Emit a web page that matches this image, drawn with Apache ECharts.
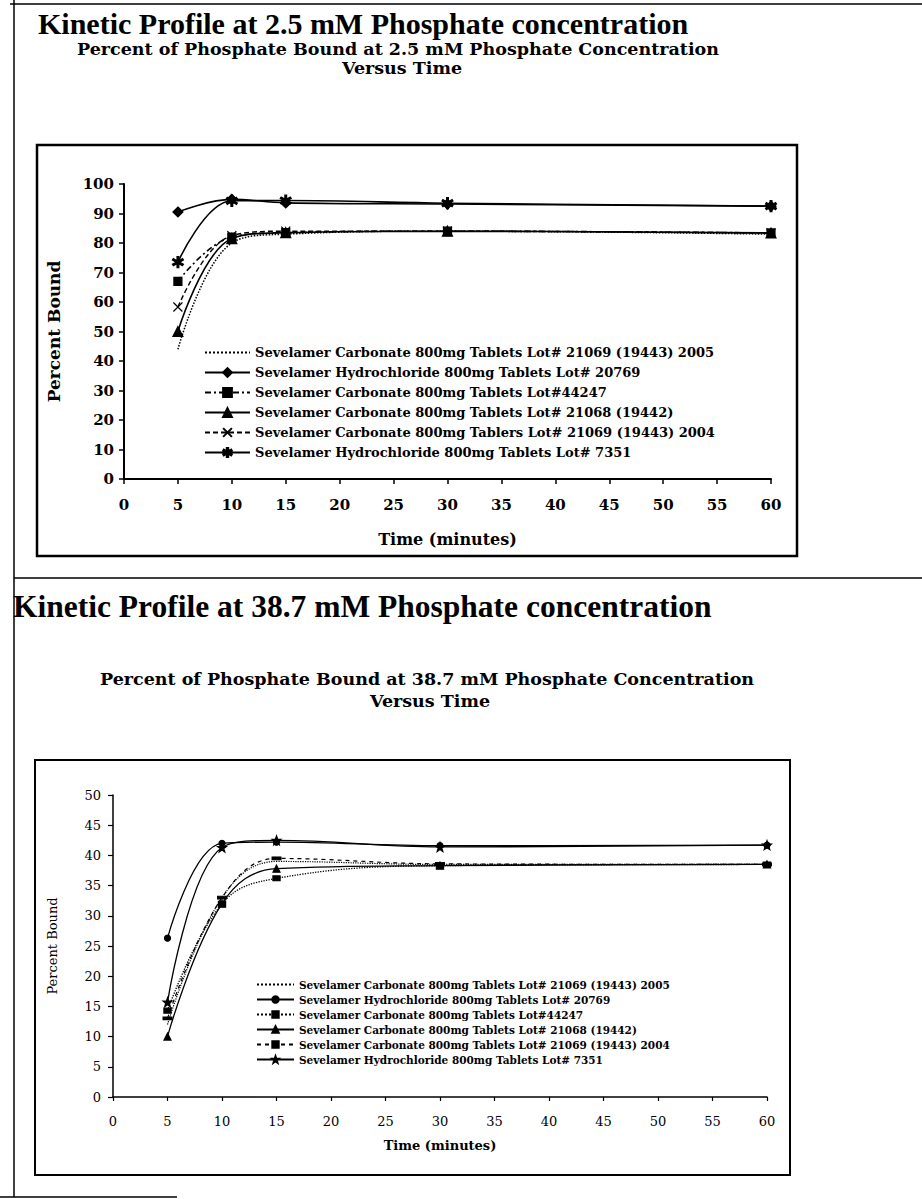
<!DOCTYPE html>
<html>
<head>
<meta charset="utf-8">
<title>Kinetic Profile</title>
<script src="https://cdn.jsdelivr.net/npm/echarts@6/dist/echarts.min.js"></script>
<style>
  body { margin: 0; background: #fff; }
  #top { position: absolute; left: 0; top: 0; width: 922px; height: 580px; }
  #bottom { position: absolute; left: 0; top: 580px; width: 922px; height: 619px; }
</style>
</head>
<body>
<div id="top"></div>
<div id="bottom"></div>
<script type="text/javascript">
// sampling times (minutes)
var times = [5, 10, 15, 30, 60];
var xTicks = { min: 0, max: 60, interval: 5 };

// legend names, as printed on each chart
var names1 = [
    'Sevelamer Carbonate 800mg Tablets Lot# 21069 (19443) 2005',
    'Sevelamer Hydrochloride 800mg Tablets Lot# 20769',
    'Sevelamer Carbonate 800mg Tablets Lot#44247',
    'Sevelamer Carbonate 800mg Tablets Lot# 21068 (19442)',
    'Sevelamer Carbonate 800mg Tablers Lot# 21069 (19443) 2004',
    'Sevelamer Hydrochloride 800mg Tablets Lot# 7351'
];
var names2 = [
    'Sevelamer Carbonate 800mg Tablets Lot# 21069 (19443) 2005',
    'Sevelamer Hydrochloride 800mg Tablets Lot# 20769',
    'Sevelamer Carbonate 800mg Tablets Lot#44247',
    'Sevelamer Carbonate 800mg Tablets Lot# 21068 (19442)',
    'Sevelamer Carbonate 800mg Tablets Lot# 21069 (19443) 2004',
    'Sevelamer Hydrochloride 800mg Tablets Lot# 7351'
];

// percent bound at 2.5 mM
var p25_lot21069_2005 = [44, 80, 83, 84, 83];
var p25_lot20769 = [90.5, 94.8, 93.6, 93.2, 92.5];
var p25_lot44247 = [67, 82, 83.5, 84, 83.4];
var p25_lot21068 = [50, 81.5, 83.5, 84, 83.4];
var p25_lot21069_2004 = [58.3, 82.5, 84, 84, 83.4];
var p25_lot7351 = [73.5, 94.3, 94.4, 93.5, 92.5];

// percent bound at 38.7 mM
var p387_lot21069_2005 = [12, 33, 39, 38.5, 38.5];
var p387_lot20769 = [26.3, 42, 42.2, 41.6, 41.7];
var p387_lot44247 = [14.3, 32, 36.2, 38.3, 38.5];
var p387_lot21068 = [10, 32, 37.8, 38.3, 38.5];
var p387_lot21069_2004 = [13, 33, 39.5, 38.6, 38.5];
var p387_lot7351 = [15.7, 41.3, 42.5, 41.4, 41.7];

var xMark = 'path://M0,0L10,10M10,0L0,10';
// filled asterisk so it still reads at legend size
var asterisk = 'path://M4.3,0L5.7,0L5.7,3.3L8.6,1.6L9.3,2.8L6.4,4.5L9.3,6.2L8.6,7.4L5.7,5.7L5.7,9L4.3,9L4.3,5.7L1.4,7.4L0.7,6.2L3.6,4.5L0.7,2.8L1.4,1.6L4.3,3.3Z';
var star = 'path://M5,0L6.2,3.6L10,3.8L7,6.2L8.1,10L5,7.8L1.9,10L3,6.2L0,3.8L3.8,3.6Z';
var dash = 'path://M0,0L10,0L10,3L0,3Z';

function pairs(vals) {
    return times.map(function (t, i) { return [t, vals[i]]; });
}

function line(name, vals, lineType, symbol, size, width) {
    return {
        name: name,
        type: 'line',
        smooth: 0.4,
        data: pairs(vals),
        symbol: symbol,
        symbolSize: size,
        lineStyle: { color: '#000', width: width, type: lineType },
        itemStyle: { color: '#000', borderColor: '#000', borderWidth: 1.2 },
        emphasis: { disabled: true }
    };
}

// the dotted series has no marker, hide it in the legend icon too
function legendData(names) {
    return names.map(function (n, i) {
        return i === 0 ? { name: n, itemStyle: { opacity: 0 } } : n;
    });
}

function txt(x, y, text, font) {
    return {
        type: 'text', x: x, y: y,
        style: {
            text: text, font: font, fill: '#000',
            align: 'center', textAlign: 'center',
            verticalAlign: 'middle', textVerticalAlign: 'middle'
        }
    };
}

// ---------- 2.5 mM chart ----------
var chart1 = echarts.init(document.getElementById('top'), null, { renderer: 'svg' });
var option1 = {
    animation: false,
    backgroundColor: '#fff',
    graphic: [
        { type: 'line', shape: { x1: 10, y1: 4, x2: 922, y2: 4 }, style: { stroke: '#000', lineWidth: 1.5 } },
        { type: 'line', shape: { x1: 14, y1: 0, x2: 14, y2: 580 }, style: { stroke: '#000', lineWidth: 1.5 } },
        { type: 'line', shape: { x1: 14, y1: 578, x2: 922, y2: 578 }, style: { stroke: '#000', lineWidth: 1.5 } },
        { type: 'rect', shape: { x: 37, y: 145, width: 760, height: 411 }, style: { fill: 'none', stroke: '#000', lineWidth: 2.5 } },
        { type: 'text', x: 38, y: 23, style: { text: 'Kinetic Profile at 2.5 mM Phosphate concentration', font: 'bold 30px "Liberation Serif"', fill: '#000', verticalAlign: 'middle', textVerticalAlign: 'middle' } },
        txt(398, 49, 'Percent of Phosphate Bound at 2.5 mM Phosphate Concentration', 'bold 17.5px "DejaVu Serif"'),
        txt(402, 68, 'Versus Time', 'bold 17.5px "DejaVu Serif"')
    ],
    legend: {
        orient: 'vertical',
        left: 199,
        top: 341,
        itemWidth: 45,
        itemHeight: 11,
        itemGap: 7,
        data: legendData(names1),
        textStyle: { color: '#000', fontFamily: 'DejaVu Serif', fontWeight: 'bold', fontSize: 13 }
    },
    grid: { left: 124, top: 184, width: 647, height: 295, outerBoundsMode: 'none' },
    xAxis: {
        type: 'value', min: xTicks.min, max: xTicks.max, interval: xTicks.interval,
        name: 'Time (minutes)', nameLocation: 'middle', nameGap: 52,
        nameTextStyle: { color: '#000', fontFamily: 'DejaVu Serif', fontWeight: 'bold', fontSize: 16 },
        axisLine: { lineStyle: { color: '#000', width: 2 } },
        axisTick: { lineStyle: { color: '#000', width: 1.5 }, length: 5 },
        axisLabel: { color: '#000', fontFamily: 'DejaVu Serif', fontWeight: 'bold', fontSize: 15, margin: 18 },
        splitLine: { show: false }
    },
    yAxis: {
        type: 'value', min: 0, max: 100, interval: 10,
        name: 'Percent Bound', nameLocation: 'middle', nameGap: 62,
        nameTextStyle: { color: '#000', fontFamily: 'DejaVu Serif', fontWeight: 'bold', fontSize: 17 },
        axisLine: { show: true, lineStyle: { color: '#000', width: 2 } },
        axisTick: { show: true, lineStyle: { color: '#000', width: 1.5 }, length: 5 },
        axisLabel: { color: '#000', fontFamily: 'DejaVu Serif', fontWeight: 'bold', fontSize: 15, margin: 10 },
        splitLine: { show: false }
    },
    series: [
        line(names1[0], p25_lot21069_2005, 'dotted', 'none', 0, 1.5),
        line(names1[1], p25_lot20769, 'solid', 'diamond', 10, 1.6),
        line(names1[2], p25_lot44247, [6, 3, 2, 3], 'rect', 8, 1.6),
        line(names1[3], p25_lot21068, 'solid', 'triangle', 10, 1.6),
        line(names1[4], p25_lot21069_2004, [5, 3], xMark, 9, 1.4),
        line(names1[5], p25_lot7351, 'solid', asterisk, 11, 0.5)
    ]
};
option1.series[5].lineStyle.width = 1.6;
chart1.setOption(option1);

// ---------- 38.7 mM chart ----------
var chart2 = echarts.init(document.getElementById('bottom'), null, { renderer: 'svg' });
var option2 = {
    animation: false,
    backgroundColor: '#fff',
    graphic: [
        { type: 'line', shape: { x1: 14, y1: 0, x2: 14, y2: 617 }, style: { stroke: '#000', lineWidth: 1.5 } },
        { type: 'line', shape: { x1: 0, y1: 617, x2: 177, y2: 617 }, style: { stroke: '#000', lineWidth: 1.5 } },
        { type: 'rect', shape: { x: 35, y: 180, width: 755, height: 415 }, style: { fill: 'none', stroke: '#000', lineWidth: 2 } },
        { type: 'text', x: 13, y: 26, style: { text: 'Kinetic Profile at 38.7 mM Phosphate concentration', font: 'bold 31.5px "Liberation Serif"', fill: '#000', verticalAlign: 'middle', textVerticalAlign: 'middle' } },
        txt(427, 99, 'Percent of Phosphate Bound at 38.7 mM Phosphate Concentration', 'bold 17.5px "DejaVu Serif"'),
        txt(430, 121, 'Versus Time', 'bold 17.5px "DejaVu Serif"')
    ],
    legend: {
        orient: 'vertical',
        left: 251,
        top: 394,
        itemWidth: 37,
        itemHeight: 8,
        itemGap: 4,
        data: legendData(names2),
        textStyle: { color: '#000', fontFamily: 'DejaVu Serif', fontWeight: 'bold', fontSize: 10.5 }
    },
    grid: { left: 113, top: 215, width: 654, height: 302, outerBoundsMode: 'none' },
    xAxis: {
        type: 'value', min: xTicks.min, max: xTicks.max, interval: xTicks.interval,
        name: 'Time (minutes)', nameLocation: 'middle', nameGap: 42,
        nameTextStyle: { color: '#000', fontFamily: 'DejaVu Serif', fontWeight: 'bold', fontSize: 13 },
        axisLine: { lineStyle: { color: '#000', width: 1.5 } },
        axisTick: { lineStyle: { color: '#000', width: 1.2 }, length: 4 },
        axisLabel: { color: '#000', fontFamily: 'DejaVu Serif', fontSize: 13, margin: 18 },
        splitLine: { show: false }
    },
    yAxis: {
        type: 'value', min: 0, max: 50, interval: 5,
        name: 'Percent Bound', nameLocation: 'middle', nameGap: 54,
        nameTextStyle: { color: '#000', fontFamily: 'DejaVu Serif', fontSize: 13 },
        axisLine: { show: true, lineStyle: { color: '#000', width: 1.5 } },
        axisTick: { show: true, lineStyle: { color: '#000', width: 1.2 }, length: 5 },
        axisLabel: { color: '#000', fontFamily: 'DejaVu Serif', fontSize: 13, margin: 12 },
        splitLine: { show: false }
    },
    series: [
        line(names2[0], p387_lot21069_2005, 'dotted', 'none', 0, 1.2),
        line(names2[1], p387_lot20769, 'solid', 'circle', 6, 1.3),
        line(names2[2], p387_lot44247, 'dotted', 'rect', [7, 5], 1.3),
        line(names2[3], p387_lot21068, 'solid', 'triangle', 7, 1.3),
        line(names2[4], p387_lot21069_2004, [4, 4], dash, [8, 3], 1.2),
        line(names2[5], p387_lot7351, 'solid', star, 9, 1.3)
    ]
};
chart2.setOption(option2);
</script>
</body>
</html>
